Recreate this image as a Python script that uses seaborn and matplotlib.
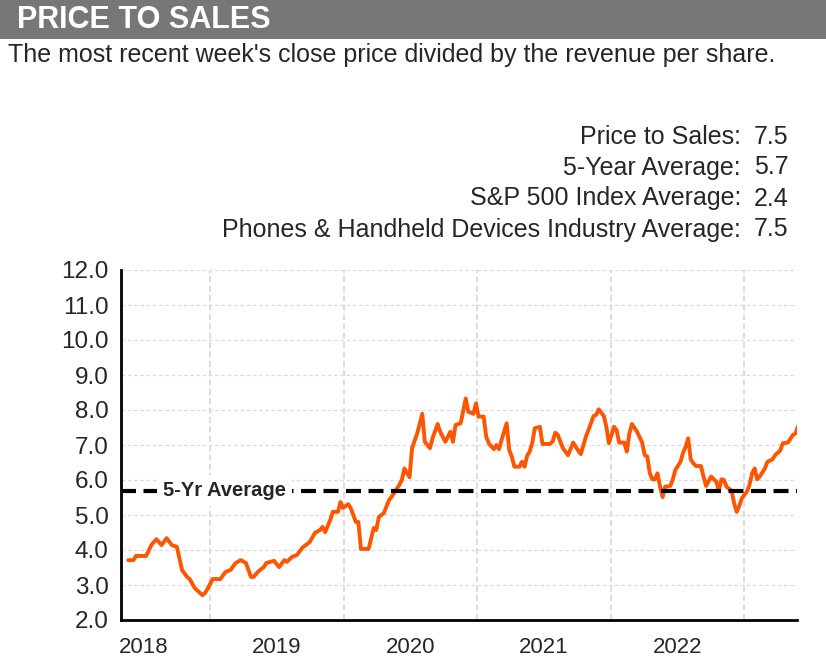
import matplotlib
matplotlib.use("Agg")
import matplotlib.pyplot as plt
import matplotlib.dates as mdates
import matplotlib.transforms as mtransforms
from matplotlib.patches import Rectangle
import seaborn as sns
import numpy as np
import pandas as pd

# weekly price-to-sales readings, offsets in weeks from the first close
start_date = "2018-05-21"
week_offsets = [0, 2, 3, 7, 9, 11, 13, 15, 17, 19, 21, 23, 24, 26, 29, 30, 31, 33, 36, 38,
                40, 42, 44, 46, 48, 49, 51, 53, 54, 57, 59, 61, 62, 64, 66, 68, 71, 73, 75, 76,
                77, 79, 80, 82, 83, 84, 86, 87, 89, 90, 91, 94, 96, 97, 98, 100, 102, 103, 106, 107,
                108, 110, 111, 113, 115, 116, 118, 119, 121, 122, 124, 126, 127, 128, 130, 132, 133, 135, 136, 137,
                139, 140, 141, 143, 144, 145, 146, 148, 149, 150, 151, 153, 154, 155, 156, 157, 158, 159, 161, 162,
                165, 166, 167, 168, 170, 171, 172, 174, 176, 177, 179, 180, 182, 183, 184, 186, 187, 188, 190, 191,
                192, 194, 195, 196, 197, 199, 201, 202, 203, 204, 205, 206, 207, 208, 209, 210, 212, 213, 214, 216,
                217, 218, 219, 220, 221, 222, 224, 225, 226, 228, 230, 231, 232, 233, 234, 236, 237, 238, 239, 240,
                242, 243, 244, 245, 246, 247, 249, 250, 252, 253, 255, 256, 258, 260, 261, 262]
ps_values = [3.71, 3.71, 3.83, 3.83, 4.14, 4.31, 4.14, 4.34, 4.14, 4.09, 3.43, 3.23, 3.17, 2.91, 2.71, 2.77, 2.89, 3.17, 3.17, 3.37,
             3.43, 3.63, 3.71, 3.63, 3.23, 3.23, 3.40, 3.51, 3.63, 3.69, 3.51, 3.71, 3.66, 3.80, 3.86, 4.06, 4.23, 4.49, 4.57, 4.66,
             4.51, 4.86, 5.09, 5.09, 5.37, 5.20, 5.31, 5.20, 4.80, 4.80, 4.03, 4.03, 4.63, 4.57, 4.94, 5.06, 5.43, 5.52, 5.86, 6.00,
             6.33, 6.08, 6.91, 7.33, 7.89, 7.09, 6.91, 7.19, 7.60, 7.38, 7.09, 7.38, 7.09, 7.57, 7.62, 8.33, 7.95, 7.89, 8.19, 7.81,
             7.81, 7.24, 7.05, 6.88, 7.00, 6.88, 7.14, 7.62, 6.86, 6.67, 6.38, 6.38, 6.52, 6.38, 6.69, 6.81, 7.05, 7.48, 7.52, 7.03,
             7.03, 7.10, 7.35, 7.29, 6.91, 6.81, 6.71, 7.07, 6.84, 6.74, 7.24, 7.43, 7.83, 7.86, 8.02, 7.83, 7.52, 7.05, 7.52, 7.43,
             7.07, 7.07, 6.81, 7.33, 7.60, 7.38, 7.07, 6.71, 6.67, 6.19, 6.02, 6.02, 6.19, 5.81, 5.51, 5.81, 5.83, 6.02, 6.29, 6.52,
             6.78, 6.95, 7.19, 6.59, 6.48, 6.40, 6.40, 6.10, 5.83, 6.10, 5.95, 5.69, 6.02, 6.00, 5.81, 5.69, 5.33, 5.09, 5.26, 5.48,
             5.67, 5.86, 6.19, 6.33, 6.02, 6.10, 6.33, 6.52, 6.59, 6.71, 6.84, 7.05, 7.07, 7.29, 7.33, 7.54]

five_year_avg = 5.7
stat_labels = ["Price to Sales:", "5-Year Average:", "S&P 500 Index Average:",
               "Phones & Handheld Devices Industry Average:"]
stat_values = ["7.5", "5.7", "2.4", "7.5"]
y_ticks = [2, 3, 4, 5, 6, 7, 8, 9, 10, 11, 12]

df = pd.DataFrame({
    "date": pd.Timestamp(start_date) + pd.to_timedelta(np.array(week_offsets) * 7, unit="D"),
    "ps": ps_values,
})

sns.set_style("white")
plt.rcParams['font.family'] = ['Liberation Sans', 'DejaVu Sans']

W, H = 826, 669
fig = plt.figure(figsize=(W / 100, H / 100), dpi=100)
ax = fig.add_axes([121 / W, 1 - 620 / H, (797 - 121) / W, (620 - 270) / H])

# header bar + texts
fig.patches.append(Rectangle((0, 1 - 39 / H), 1, 39 / H, transform=fig.transFigure,
                             facecolor="#777777", edgecolor="none", zorder=0))
fig.text(17 / W, 1 - 27.5 / H, "PRICE TO SALES", color="white", fontsize=22,
         fontweight="bold", ha="left", va="baseline")
fig.text(8 / W, 1 - 62 / H, "The most recent week's close price divided by the revenue per share.",
         fontsize=18, ha="left", va="baseline")

for i, (lab, val) in enumerate(zip(stat_labels, stat_values)):
    yb = 1 - (143.5 + 31 * i) / H
    fig.text(741 / W, yb, lab, fontsize=18, ha="right", va="baseline")
    fig.text(754 / W, yb, val, fontsize=18, ha="left", va="baseline")

sns.lineplot(data=df, x="date", y="ps", color="#ff5500", linewidth=2.8, ax=ax, zorder=3)

ax.axhline(five_year_avg, color="black", linewidth=3, linestyle=(0, (3.6, 1.8)), zorder=4)
trans = mtransforms.blended_transform_factory(ax.transAxes, ax.transData)
ax.text(0.062, five_year_avg, "5-Yr Average", transform=trans, fontsize=14.5,
        fontweight="bold", ha="left", va="center", zorder=5,
        bbox=dict(boxstyle="square,pad=0.3", facecolor="white", edgecolor="none"))

ax.set_xlim(pd.Timestamp("2018-05-01"), pd.Timestamp("2023-05-26"))
ax.set_ylim(2, 12)
ax.set_yticks(y_ticks)
ax.set_yticklabels([f"{t:.1f}" for t in y_ticks])

ax.xaxis.set_major_locator(mdates.YearLocator())
ax.xaxis.set_major_formatter(plt.NullFormatter())
ax.xaxis.set_minor_locator(mdates.YearLocator(month=7, day=2))
ax.xaxis.set_minor_formatter(mdates.DateFormatter("%Y"))

ax.tick_params(axis="x", which="major", length=29, width=1.5, color="#dddddd", direction="out")
ax.tick_params(axis="x", which="minor", length=0, pad=12, labelsize=16)
ax.tick_params(axis="y", length=0, pad=9, labelsize=17.5)

ax.grid(axis="y", color="#dcdcdc", linestyle=(0, (3, 2)), linewidth=0.9)
ax.grid(axis="x", which="major", color="#dddddd", linestyle=(0, (3, 1.5)), linewidth=1.5)
ax.set_axisbelow(True)

sns.despine(ax=ax)
for side in ["left", "bottom"]:
    ax.spines[side].set_color("black")
    ax.spines[side].set_linewidth(2)
ax.set_xlabel("")
ax.set_ylabel("")

fig.savefig("out.png", dpi=100)
